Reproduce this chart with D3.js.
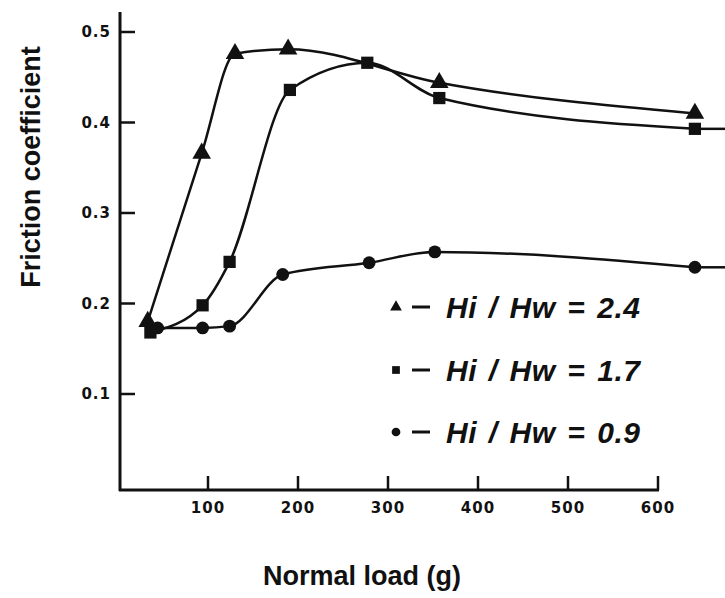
<!DOCTYPE html>
<html>
<head>
<meta charset="utf-8">
<script src="https://cdn.jsdelivr.net/npm/d3@7"></script>
<style>
  body { margin: 0; background: #fff; }
  svg { display: block; }
  .tick-label { font-family: 'DejaVu Sans', sans-serif; font-weight: bold; font-size: 15px; letter-spacing: 1px; fill: #111; }
  .axis-title { font-family: 'Liberation Sans', Arial, sans-serif; font-weight: bold; fill: #111; }
  .legend-text { font-family: 'Liberation Sans', Arial, sans-serif; font-weight: bold; font-style: italic; font-size: 30px; letter-spacing: 0.5px; word-spacing: 3px; fill: #111; }
</style>
</head>
<body>
<svg id="chart" width="725" height="598"></svg>
<script>
// load (g) and friction coefficient for each Hi/Hw ratio
const triLoad = [33, 93, 130, 189, 357, 641];
const triMu = [0.180, 0.366, 0.476, 0.481, 0.444, 0.410];

const sqLoad = [36, 94, 124, 191, 277, 357, 641];
const sqMu = [0.168, 0.198, 0.246, 0.436, 0.466, 0.427, 0.393];

const cirLoad = [44, 94, 124, 183, 279, 352, 641];
const cirMu = [0.173, 0.173, 0.175, 0.232, 0.245, 0.257, 0.240];

const xTicks = [100, 200, 300, 400, 500, 600];
const yTicks = [0.1, 0.2, 0.3, 0.4, 0.5];

const legendLabels = ['Hi / Hw = 2.4', 'Hi / Hw = 1.7', 'Hi / Hw = 0.9'];

const width = 725;
const height = 598;
const ink = '#111';

const svg = d3.select('#chart');
svg.append('rect').attr('width', width).attr('height', height).attr('fill', '#fff');

const x = d3.scaleLinear().domain([0, 600]).range([118, 658]);
const y = d3.scaleLinear().domain([0, 0.5]).range([484.5, 32]);

const axisY = 490; // where the x axis sits
const axisX = 120; // where the y axis sits

// axis lines
svg.append('line')
  .attr('x1', axisX).attr('x2', axisX)
  .attr('y1', 12).attr('y2', axisY + 1)
  .attr('stroke', ink).attr('stroke-width', 3);
svg.append('line')
  .attr('x1', axisX - 1).attr('x2', x(600) + 1)
  .attr('y1', axisY).attr('y2', axisY)
  .attr('stroke', ink).attr('stroke-width', 3);

// y ticks point inward (right)
const yg = svg.append('g');
yg.selectAll('line')
  .data(yTicks)
  .join('line')
  .attr('x1', axisX).attr('x2', axisX + 15)
  .attr('y1', d => y(d)).attr('y2', d => y(d))
  .attr('stroke', ink).attr('stroke-width', 2.5);
yg.selectAll('text')
  .data(yTicks)
  .join('text')
  .attr('class', 'tick-label')
  .attr('x', axisX - 9)
  .attr('y', d => y(d))
  .attr('dy', '0.36em')
  .attr('text-anchor', 'end')
  .text(d => d3.format('.1f')(d));

// x ticks point up
const xg = svg.append('g');
xg.selectAll('line')
  .data(xTicks)
  .join('line')
  .attr('x1', d => x(d)).attr('x2', d => x(d))
  .attr('y1', axisY).attr('y2', axisY - 14)
  .attr('stroke', ink).attr('stroke-width', 2.5);
xg.selectAll('text')
  .data(xTicks)
  .join('text')
  .attr('class', 'tick-label')
  .attr('x', d => x(d))
  .attr('y', axisY + 23)
  .attr('text-anchor', 'middle')
  .text(d => d);

// axis titles
svg.append('text')
  .attr('class', 'axis-title')
  .attr('font-size', 27)
  .attr('transform', 'translate(40,167) rotate(-90)')
  .attr('text-anchor', 'middle')
  .text('Friction coefficient');

svg.append('text')
  .attr('class', 'axis-title')
  .attr('font-size', 27)
  .attr('x', 362)
  .attr('y', 585)
  .attr('text-anchor', 'middle')
  .text('Normal load (g)');

// curves
const line = d3.line()
  .x(d => x(d[0]))
  .y(d => y(d[1]))
  .curve(d3.curveMonotoneX);

const series = [
  {load: triLoad, mu: triMu, shape: d3.symbolTriangle, tail: false},
  {load: sqLoad, mu: sqMu, shape: d3.symbolSquare, tail: true},
  {load: cirLoad, mu: cirMu, shape: d3.symbolCircle, tail: true}
];

series.forEach(s => {
  const pts = s.load.map((l, i) => [l, s.mu[i]]);
  svg.append('path')
    .attr('d', line(pts))
    .attr('fill', 'none')
    .attr('stroke', ink)
    .attr('stroke-width', 2.5);

  // the lower curves run on past the last point to the edge
  if (s.tail) {
    const last = pts[pts.length - 1];
    svg.append('line')
      .attr('x1', x(last[0])).attr('x2', width)
      .attr('y1', y(last[1])).attr('y2', y(last[1]))
      .attr('stroke', ink).attr('stroke-width', 2.5);
  }

  svg.append('g')
    .selectAll('path')
    .data(pts)
    .join('path')
    .attr('transform', d => `translate(${x(d[0])},${y(d[1])})`)
    .attr('d', d3.symbol().type(s.shape).size(s.shape === d3.symbolCircle ? 130 : 150))
    .attr('fill', ink);
});

// legend
const legendY = [307, 370, 432];
const lg = svg.append('g');
series.forEach((s, i) => {
  lg.append('path')
    .attr('transform', `translate(396,${legendY[i]})`)
    .attr('d', d3.symbol().type(s.shape).size(60))
    .attr('fill', ink);
  lg.append('line')
    .attr('x1', 412).attr('x2', 430)
    .attr('y1', legendY[i]).attr('y2', legendY[i])
    .attr('stroke', ink).attr('stroke-width', 3);
  lg.append('text')
    .attr('class', 'legend-text')
    .attr('x', 446)
    .attr('y', legendY[i] + 11)
    .attr('xml:space', 'preserve')
    .text(legendLabels[i]);
});
</script>
</body>
</html>
